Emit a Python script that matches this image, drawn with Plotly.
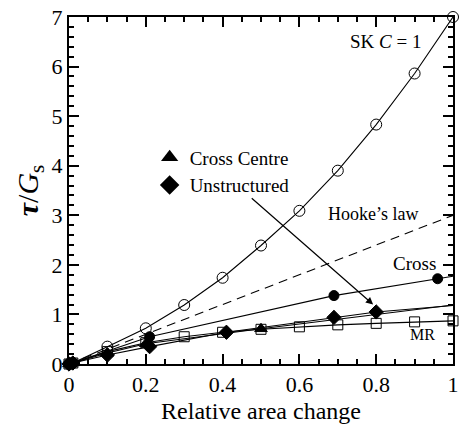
import plotly.graph_objects as go

FONT = "Liberation Serif"

# SK C = 1 (open circles)
sk_x = [0, 0.01, 0.1, 0.2, 0.3, 0.4, 0.5, 0.6, 0.7, 0.8, 0.9, 1.0]
sk_y = [0, 0.02, 0.35, 0.72, 1.19, 1.74, 2.39, 3.09, 3.90, 4.83, 5.86, 7.0]

# Hooke's law (dashed)
hooke_x = [0, 1.0]
hooke_y = [0, 3.0]

# Cross (filled circles)
cross_x = [0, 0.01, 0.21, 0.69, 0.96]
cross_y = [0, 0.02, 0.55, 1.38, 1.72]
cross_line_x = [0, 0.21, 0.69, 0.96, 1.0]
cross_line_y = [0, 0.55, 1.38, 1.72, 1.77]

# MR (open squares)
mr_x = [0, 0.01, 0.1, 0.2, 0.3, 0.4, 0.5, 0.6, 0.7, 0.8, 0.9, 1.0]
mr_y = [0, 0.02, 0.25, 0.43, 0.55, 0.64, 0.70, 0.75, 0.79, 0.82, 0.85, 0.87]

# Unstructured (filled diamonds)
uns_x = [0, 0.01, 0.1, 0.21, 0.41, 0.69, 0.8]
uns_y = [0, 0.02, 0.18, 0.35, 0.64, 0.94, 1.05]
uns_line_x = [0, 0.01, 0.1, 0.21, 0.41, 0.69, 0.8, 1.0]
uns_line_y = [0, 0.02, 0.18, 0.35, 0.64, 0.94, 1.05, 1.18]

# Cross Centre (filled triangles)
cc_x = [0, 0.01, 0.1, 0.2, 0.5]
cc_y = [0, 0.02, 0.22, 0.41, 0.71]
cc_line_x = [0, 0.01, 0.1, 0.2, 0.5, 1.0]
cc_line_y = [0, 0.02, 0.22, 0.41, 0.71, 1.19]

fig = go.Figure()
LW = 1.1

def line(x, y, dash="solid"):
    fig.add_trace(go.Scatter(x=x, y=y, mode="lines", showlegend=False,
                             line=dict(color="black", width=LW, dash=dash),
                             cliponaxis=False))

def marks(x, y, symbol, size):
    fig.add_trace(go.Scatter(x=x, y=y, mode="markers", showlegend=False,
                             marker=dict(symbol=symbol, size=size, color="black",
                                         line=dict(color="black", width=1)),
                             cliponaxis=False))

line(hooke_x, hooke_y, dash="9px,6px")
line(sk_x, sk_y)
marks(sk_x, sk_y, "circle-open", 11)
line(mr_x, mr_y)
marks(mr_x, mr_y, "square-open", 10)
line(cross_line_x, cross_line_y)
marks(cross_x, cross_y, "circle", 10)
line(cc_line_x, cc_line_y)
marks(cc_x, cc_y, "triangle-up", 11)
line(uns_line_x, uns_line_y)
marks(uns_x, uns_y, "diamond", 11)

# legend entries (marker only)
fig.add_trace(go.Scatter(x=[None], y=[None], mode="markers", name="Cross Centre",
                         marker=dict(symbol="triangle-up", size=15, color="black")))
fig.add_trace(go.Scatter(x=[None], y=[None], mode="markers", name="Unstructured",
                         marker=dict(symbol="diamond", size=15, color="black")))

tickfont = dict(family=FONT, size=22, color="black")
frame = dict(showgrid=False, zeroline=False, showline=True, linecolor="black", linewidth=2,
             mirror="allticks", ticks="inside", ticklen=10, tickwidth=2, tickcolor="black",
             tickfont=tickfont, ticklabeloverflow="allow")

fig.update_xaxes(
    range=[0, 1], dtick=0.2, tick0=0,
    minor=dict(dtick=0.05, ticks="inside", ticklen=5, tickwidth=1.5, tickcolor="black"),
    title=dict(text="Relative area change", font=dict(family=FONT, size=24, color="black"),
               standoff=6),
    **frame,
)
fig.update_yaxes(
    range=[0, 7], dtick=1, tick0=0,
    minor=dict(dtick=0.2, ticks="inside", ticklen=5, tickwidth=1.5, tickcolor="black"),
    title=dict(text="<b><i>τ</i></b>/<i>G</i><sub>s</sub>",
               font=dict(family=FONT, size=30, color="black"), standoff=4),
    **frame,
)

txt = dict(family=FONT, color="black")
fig.add_annotation(x=0.824, y=6.5, xref="x", yref="y", text="SK <i>C</i> = 1",
                   showarrow=False, font=dict(size=19, **txt))
fig.add_annotation(x=0.792, y=3.03, xref="x", yref="y", text="Hooke’s law",
                   showarrow=False, font=dict(size=18, **txt))
fig.add_annotation(x=0.9, y=2.03, xref="x", yref="y", text="Cross",
                   showarrow=False, font=dict(size=19, **txt))
fig.add_annotation(x=0.92, y=0.6, xref="x", yref="y", text="MR",
                   showarrow=False, font=dict(size=16, **txt))
# arrow from the legend to the unstructured curve
fig.add_annotation(x=0.792, y=1.2, xref="x", yref="y", ax=0.472, ay=3.37,
                   axref="x", ayref="y", text="", showarrow=True,
                   arrowhead=2, arrowsize=1.2, arrowwidth=1.2, arrowcolor="black")

fig.update_layout(
    width=464, height=428,
    margin=dict(l=69, r=5, t=9, b=64),
    paper_bgcolor="white", plot_bgcolor="white",
    font=dict(family=FONT, color="black"),
    legend=dict(x=0.21, y=0.65, xanchor="left", yanchor="top",
                bgcolor="rgba(0,0,0,0)", font=dict(family=FONT, size=19, color="black"),
                itemwidth=30, tracegroupgap=0),
)

fig.write_html("out.html")
